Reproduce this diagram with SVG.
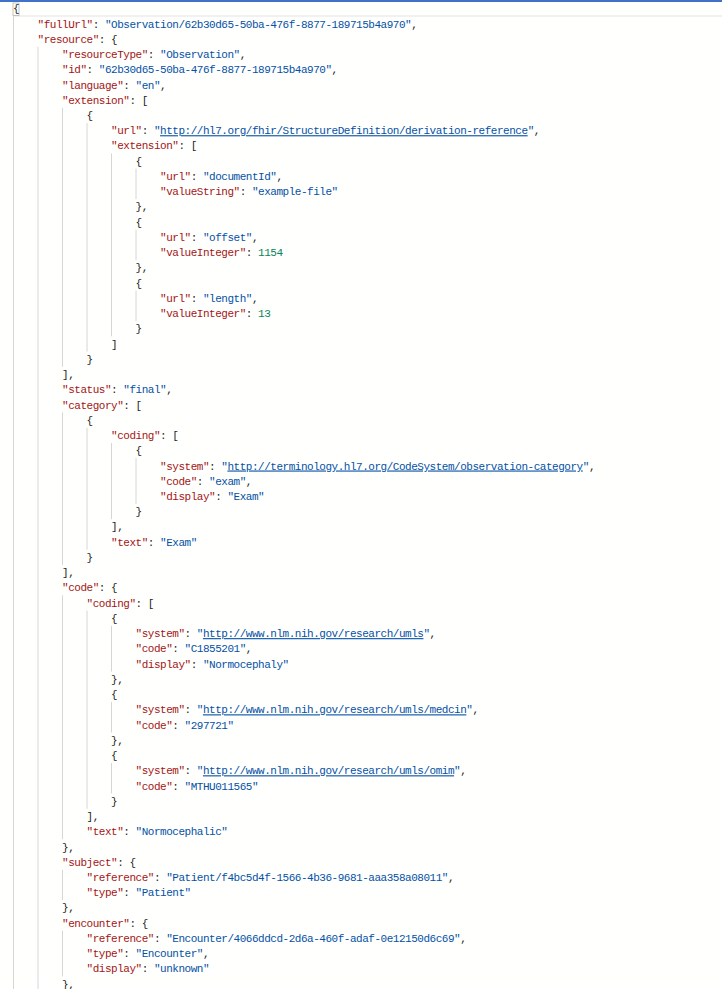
<svg xmlns="http://www.w3.org/2000/svg" width="722" height="989" viewBox="0 0 722 989">
<style>
text{font-family:"Liberation Mono","DejaVu Sans Mono",monospace;font-size:11px;letter-spacing:-0.475px;fill:#1f1f1f}
.k{fill:#a31515}
.s{fill:#0451a5}
.n{fill:#098658}
.u{fill:#0451a5;text-decoration:underline}
.g line{stroke:#d6d6d6;stroke-width:1}
</style>
<rect width="722" height="989" fill="#fffffe"/>
<rect x="0" y="0" width="722" height="2" fill="#3f72c8"/>
<line x1="13" y1="16" x2="722" y2="16" stroke="#ececec" stroke-width="1.5"/>
<rect x="13" y="3" width="6" height="12.5" fill="none" stroke="#b4b4b4" stroke-width="0.8"/>
<g id="guides" class="g">
<line x1="13.5" y1="16.24" x2="13.5" y2="989"/>
<line x1="38" y1="46.72" x2="38" y2="989"/>
<line x1="62.5" y1="107.68" x2="62.5" y2="366.76"/>
<line x1="87" y1="122.92" x2="87" y2="351.52"/>
<line x1="111.5" y1="153.4" x2="111.5" y2="336.28"/>
<line x1="136" y1="168.64" x2="136" y2="199.12"/>
<line x1="136" y1="229.6" x2="136" y2="260.08"/>
<line x1="136" y1="290.56" x2="136" y2="321.04"/>
<line x1="62.5" y1="412.48" x2="62.5" y2="564.88"/>
<line x1="87" y1="427.72" x2="87" y2="549.64"/>
<line x1="111.5" y1="442.96" x2="111.5" y2="519.16"/>
<line x1="136" y1="458.2" x2="136" y2="503.92"/>
<line x1="62.5" y1="595.36" x2="62.5" y2="839.2"/>
<line x1="87" y1="610.6" x2="87" y2="808.72"/>
<line x1="111.5" y1="625.84" x2="111.5" y2="671.56"/>
<line x1="111.5" y1="702.04" x2="111.5" y2="732.52"/>
<line x1="111.5" y1="763" x2="111.5" y2="793.48"/>
<line x1="62.5" y1="869.68" x2="62.5" y2="900.16"/>
<line x1="62.5" y1="930.64" x2="62.5" y2="976.36"/>
</g>
<g id="code">
<text x="13" y="12.3">{</text>
<text x="37.5" y="27.54"><tspan class="k">"fullUrl"</tspan>: <tspan class="s">"Observation/62b30d65-50ba-476f-8877-189715b4a970"</tspan>,</text>
<text x="37.5" y="42.78"><tspan class="k">"resource"</tspan>: {</text>
<text x="62" y="58.02"><tspan class="k">"resourceType"</tspan>: <tspan class="s">"Observation"</tspan>,</text>
<text x="62" y="73.26"><tspan class="k">"id"</tspan>: <tspan class="s">"62b30d65-50ba-476f-8877-189715b4a970"</tspan>,</text>
<text x="62" y="88.5"><tspan class="k">"language"</tspan>: <tspan class="s">"en"</tspan>,</text>
<text x="62" y="103.74"><tspan class="k">"extension"</tspan>: [</text>
<text x="86.5" y="118.98">{</text>
<text x="111" y="134.22"><tspan class="k">"url"</tspan>: <tspan class="s">"</tspan><tspan class="u">http://hl7.org/fhir/StructureDefinition/derivation-reference</tspan><tspan class="s">"</tspan>,</text>
<text x="111" y="149.46"><tspan class="k">"extension"</tspan>: [</text>
<text x="135.5" y="164.7">{</text>
<text x="160" y="179.94"><tspan class="k">"url"</tspan>: <tspan class="s">"documentId"</tspan>,</text>
<text x="160" y="195.18"><tspan class="k">"valueString"</tspan>: <tspan class="s">"example-file"</tspan></text>
<text x="135.5" y="210.42">},</text>
<text x="135.5" y="225.66">{</text>
<text x="160" y="240.9"><tspan class="k">"url"</tspan>: <tspan class="s">"offset"</tspan>,</text>
<text x="160" y="256.14"><tspan class="k">"valueInteger"</tspan>: <tspan class="n">1154</tspan></text>
<text x="135.5" y="271.38">},</text>
<text x="135.5" y="286.62">{</text>
<text x="160" y="301.86"><tspan class="k">"url"</tspan>: <tspan class="s">"length"</tspan>,</text>
<text x="160" y="317.1"><tspan class="k">"valueInteger"</tspan>: <tspan class="n">13</tspan></text>
<text x="135.5" y="332.34">}</text>
<text x="111" y="347.58">]</text>
<text x="86.5" y="362.82">}</text>
<text x="62" y="378.06">],</text>
<text x="62" y="393.3"><tspan class="k">"status"</tspan>: <tspan class="s">"final"</tspan>,</text>
<text x="62" y="408.54"><tspan class="k">"category"</tspan>: [</text>
<text x="86.5" y="423.78">{</text>
<text x="111" y="439.02"><tspan class="k">"coding"</tspan>: [</text>
<text x="135.5" y="454.26">{</text>
<text x="160" y="469.5"><tspan class="k">"system"</tspan>: <tspan class="s">"</tspan><tspan class="u">http://terminology.hl7.org/CodeSystem/observation-category</tspan><tspan class="s">"</tspan>,</text>
<text x="160" y="484.74"><tspan class="k">"code"</tspan>: <tspan class="s">"exam"</tspan>,</text>
<text x="160" y="499.98"><tspan class="k">"display"</tspan>: <tspan class="s">"Exam"</tspan></text>
<text x="135.5" y="515.22">}</text>
<text x="111" y="530.46">],</text>
<text x="111" y="545.7"><tspan class="k">"text"</tspan>: <tspan class="s">"Exam"</tspan></text>
<text x="86.5" y="560.94">}</text>
<text x="62" y="576.18">],</text>
<text x="62" y="591.42"><tspan class="k">"code"</tspan>: {</text>
<text x="86.5" y="606.66"><tspan class="k">"coding"</tspan>: [</text>
<text x="111" y="621.9">{</text>
<text x="135.5" y="637.14"><tspan class="k">"system"</tspan>: <tspan class="s">"</tspan><tspan class="u">http://www.nlm.nih.gov/research/umls</tspan><tspan class="s">"</tspan>,</text>
<text x="135.5" y="652.38"><tspan class="k">"code"</tspan>: <tspan class="s">"C1855201"</tspan>,</text>
<text x="135.5" y="667.62"><tspan class="k">"display"</tspan>: <tspan class="s">"Normocephaly"</tspan></text>
<text x="111" y="682.86">},</text>
<text x="111" y="698.1">{</text>
<text x="135.5" y="713.34"><tspan class="k">"system"</tspan>: <tspan class="s">"</tspan><tspan class="u">http://www.nlm.nih.gov/research/umls/medcin</tspan><tspan class="s">"</tspan>,</text>
<text x="135.5" y="728.58"><tspan class="k">"code"</tspan>: <tspan class="s">"297721"</tspan></text>
<text x="111" y="743.82">},</text>
<text x="111" y="759.06">{</text>
<text x="135.5" y="774.3"><tspan class="k">"system"</tspan>: <tspan class="s">"</tspan><tspan class="u">http://www.nlm.nih.gov/research/umls/omim</tspan><tspan class="s">"</tspan>,</text>
<text x="135.5" y="789.54"><tspan class="k">"code"</tspan>: <tspan class="s">"MTHU011565"</tspan></text>
<text x="111" y="804.78">}</text>
<text x="86.5" y="820.02">],</text>
<text x="86.5" y="835.26"><tspan class="k">"text"</tspan>: <tspan class="s">"Normocephalic"</tspan></text>
<text x="62" y="850.5">},</text>
<text x="62" y="865.74"><tspan class="k">"subject"</tspan>: {</text>
<text x="86.5" y="880.98"><tspan class="k">"reference"</tspan>: <tspan class="s">"Patient/f4bc5d4f-1566-4b36-9681-aaa358a08011"</tspan>,</text>
<text x="86.5" y="896.22"><tspan class="k">"type"</tspan>: <tspan class="s">"Patient"</tspan></text>
<text x="62" y="911.46">},</text>
<text x="62" y="926.7"><tspan class="k">"encounter"</tspan>: {</text>
<text x="86.5" y="941.94"><tspan class="k">"reference"</tspan>: <tspan class="s">"Encounter/4066ddcd-2d6a-460f-adaf-0e12150d6c69"</tspan>,</text>
<text x="86.5" y="957.18"><tspan class="k">"type"</tspan>: <tspan class="s">"Encounter"</tspan>,</text>
<text x="86.5" y="972.42"><tspan class="k">"display"</tspan>: <tspan class="s">"unknown"</tspan></text>
<text x="62" y="987.66">},</text>
</g>
</svg>
